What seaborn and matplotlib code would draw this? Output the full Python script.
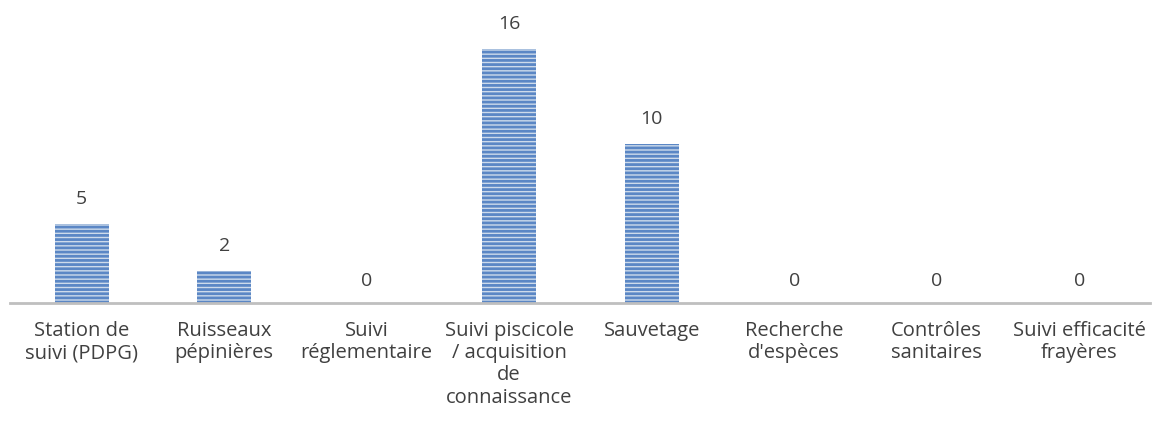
import matplotlib
matplotlib.use("Agg")
import matplotlib.pyplot as plt
import seaborn as sns
import pandas as pd

categories = [
    "Station de\nsuivi (PDPG)",
    "Ruisseaux\npépinières",
    "Suivi\nréglementaire",
    "Suivi piscicole\n/ acquisition\nde\nconnaissance",
    "Sauvetage",
    "Recherche\nd'espèces",
    "Contrôles\nsanitaires",
    "Suivi efficacité\nfrayères",
]
values = [5, 2, 0, 16, 10, 0, 0, 0]

df = pd.DataFrame({"categorie": categories, "nombre": values})

sns.set_style("white")
plt.rcParams["font.family"] = ["Open Sans", "DejaVu Sans"]
plt.rcParams["hatch.linewidth"] = 2.0

fig = plt.figure(figsize=(11.62, 4.30), dpi=100)
ax = fig.add_axes([0.009, 0.295, 0.981, 0.665])

# barres hachurées horizontalement (style Excel)
sns.barplot(data=df, x="categorie", y="nombre", ax=ax, width=0.38,
            color="#c9daf0", edgecolor="#5b87c5", linewidth=0, hatch="----")

for i, v in enumerate(values):
    ax.text(i, v + (0.8 if v == 0 else 1.0), str(v), ha="center", va="bottom",
            fontsize=14, color="#404040")

ax.set_ylim(0, 18)
ax.set_xlim(-0.5, len(categories) - 0.5)
ax.set_xlabel("")
ax.set_ylabel("")
ax.set_yticks([])
ax.tick_params(axis="x", length=0, pad=13, labelsize=14.5, labelcolor="#404040")
for lab in ax.get_xticklabels():
    lab.set_linespacing(1.14)
    lab.set_va("top")
for s in ["top", "left", "right"]:
    ax.spines[s].set_visible(False)
ax.spines["bottom"].set_color("#bfbfbf")
ax.spines["bottom"].set_linewidth(2)

fig.savefig("out.png", dpi=100)
plt.close()
